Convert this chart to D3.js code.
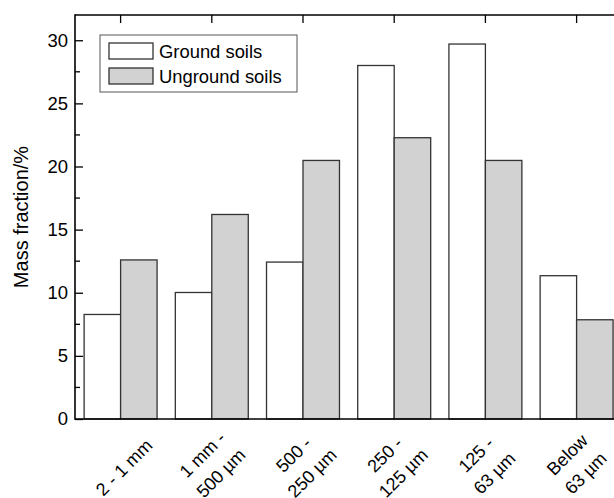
<!DOCTYPE html>
<html>
<head>
<meta charset="utf-8">
<script src="https://cdn.jsdelivr.net/npm/d3@7"></script>
<style>
  body { margin: 0; background: #fff; }
  text { font-family: "Liberation Sans", Arial, Helvetica, sans-serif; fill: #000; }
</style>
</head>
<body>
<div class="chart"></div>
<script>
// size classes (each label is split in lines)
let categories = ["2-1", "1-0.5", "500-250", "250-125", "125-63", "below63"];
let labelLines = [
  ["2 - 1 mm"],
  ["1 mm -", "500 µm"],
  ["500 -", "250 µm"],
  ["250 -", "125 µm"],
  ["125 -", "63 µm"],
  ["Below", "63 µm"]
];
let seriesNames = ["Ground soils", "Unground soils"];
let groundValues = [8.28, 10.02, 12.43, 28.0, 29.7, 11.35];
let ungroundValues = [12.6, 16.2, 20.48, 22.28, 20.48, 7.86];
let yTicks = [0, 5, 10, 15, 20, 25, 30];

let width = 614, height = 498;
let plotLeft = 75, plotTop = 15, plotBottom = 419;
let step = 91.2;
let fills = ["#ffffff", "#d1d2d1"];

let svg = d3.select(".chart")
  .append("svg")
  .attr("width", width)
  .attr("height", height);

let x = d3.scaleBand()
  .domain(categories)
  .range([plotLeft, plotLeft + step * categories.length]);

let x1 = d3.scaleBand()
  .domain(seriesNames)
  .range([x.bandwidth() * 0.1, x.bandwidth() * 0.9]);

let y = d3.scaleLinear()
  .domain([0, 32])
  .range([plotBottom, plotTop]);

let rows = categories.map(function(c, i) {
  return { cat: c, values: [groundValues[i], ungroundValues[i]] };
});

// x labels first, straight on the svg, start-anchored and rotated
let lineGap = 26;
rows.forEach(function(d, i) {
  let lines = labelLines[i];
  lines.forEach(function(line, j) {
    let off = lines.length === 1 ? 11 : (j === 0 ? -7 : 19);
    let cx = x(d.cat) + x.bandwidth() / 2;
    let t = svg.append("text")
      .attr("font-size", 18)
      .text(line);
    let len = t.node().getComputedTextLength();
    t.attr("transform", "translate(" + cx + ",464) rotate(-45) translate(" + (-len / 2) + "," + off + ")");
  });
});

// bars
let groups = svg.selectAll(".grp")
  .data(rows)
  .enter()
  .append("g")
  .attr("class", "grp")
  .attr("transform", function(d) { return "translate(" + x(d.cat) + ",0)"; });

groups.selectAll("rect")
  .data(function(d) { return d.values.map(function(v, k) { return { name: seriesNames[k], v: v, k: k }; }); })
  .enter()
  .append("rect")
  .attr("x", function(d) { return x1(d.name); })
  .attr("y", function(d) { return y(d.v); })
  .attr("width", x1.bandwidth())
  .attr("height", function(d) { return y(0) - y(d.v); })
  .attr("fill", function(d) { return fills[d.k]; })
  .attr("stroke", "#333")
  .attr("stroke-width", 1.3);

// left axis with inner ticks
let yAxis = d3.axisLeft(y).tickValues(yTicks).tickSize(-8).tickPadding(15);
let gy = svg.append("g")
  .attr("transform", "translate(" + plotLeft + ",0)")
  .call(yAxis);
gy.select(".domain").remove();
gy.selectAll(".tick line").attr("stroke", "#000").attr("stroke-width", 1.3);
gy.selectAll(".tick text")
  .attr("font-size", 18.5)
  .attr("x", -7)
  .style("font-family", "'Liberation Sans', Arial, sans-serif");

// minor ticks
let minor = d3.range(2.5, 32, 5);
svg.append("g").selectAll("line")
  .data(minor)
  .enter()
  .append("line")
  .attr("x1", plotLeft).attr("x2", plotLeft + 5)
  .attr("y1", function(d) { return y(d); })
  .attr("y2", function(d) { return y(d); })
  .attr("stroke", "#000")
  .attr("stroke-width", 1.3);

// top axis, ticks at group centers
svg.append("g").selectAll("line")
  .data(categories)
  .enter()
  .append("line")
  .attr("x1", function(d) { return x(d) + x.bandwidth() / 2; })
  .attr("x2", function(d) { return x(d) + x.bandwidth() / 2; })
  .attr("y1", plotTop).attr("y2", plotTop + 8)
  .attr("stroke", "#000")
  .attr("stroke-width", 1.3);

// frame
svg.append("line")
  .attr("x1", plotLeft).attr("x2", plotLeft).attr("y1", plotTop - 0.7).attr("y2", plotBottom + 0.7)
  .attr("stroke", "#000").attr("stroke-width", 1.6);
svg.append("line")
  .attr("x1", plotLeft).attr("x2", width + 20).attr("y1", plotTop).attr("y2", plotTop)
  .attr("stroke", "#000").attr("stroke-width", 1.6);
svg.append("line")
  .attr("x1", plotLeft).attr("x2", width + 20).attr("y1", plotBottom).attr("y2", plotBottom)
  .attr("stroke", "#000").attr("stroke-width", 1.6);

// y label
svg.append("text")
  .attr("transform", "translate(28,217) rotate(-90)")
  .attr("text-anchor", "middle")
  .attr("font-size", 20)
  .text("Mass fraction/%");

// legend
let lg = svg.append("g");
lg.append("rect")
  .attr("x", 100).attr("y", 35).attr("width", 197).attr("height", 57)
  .attr("fill", "#fff").attr("stroke", "#555").attr("stroke-width", 1);

let items = lg.selectAll(".item")
  .data(seriesNames)
  .enter()
  .append("g")
  .attr("class", "item")
  .attr("transform", function(d, i) { return "translate(109," + (43 + i * 25) + ")"; });

items.append("rect")
  .attr("width", 44).attr("height", 16)
  .attr("fill", function(d, i) { return fills[i]; })
  .attr("stroke", "#333")
  .attr("stroke-width", 1.3);

items.append("text")
  .attr("x", 50).attr("y", 15)
  .attr("font-size", 18.4)
  .text(function(d) { return d; });
</script>
</body>
</html>
